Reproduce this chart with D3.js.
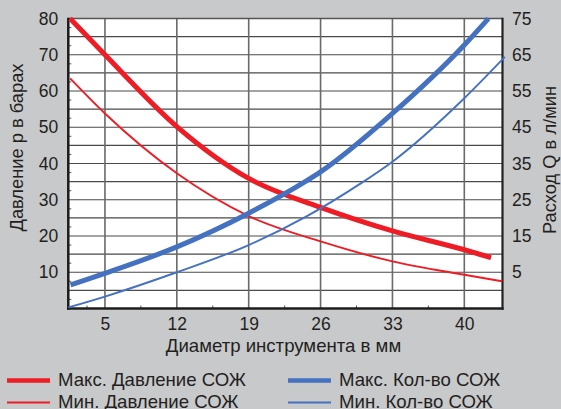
<!DOCTYPE html>
<html><head><meta charset="utf-8">
<script src="https://cdn.jsdelivr.net/npm/d3@7"></script>
<style>
html,body{margin:0;padding:0;background:#c8c9cb;}
svg{display:block;font-family:"Liberation Sans",Arial,sans-serif;}
</style></head>
<body>
<svg id="chart" width="561" height="409"></svg>
<script>
// ---- data ----
const xTicks = [5, 12, 19, 26, 33, 40];
const xMinorTicks = [3.25, 8.5, 15.5, 22.5, 29.5, 36.5];
const leftTicks = [10, 20, 30, 40, 50, 60, 70, 80];
const rightTicks = [5, 15, 25, 35, 45, 55, 65, 75];
const gridValues = [5,10,15,20,25,30,35,40,45,50,55,60,65,70,75];

// pressure in bar (left axis)
const maxPressureD = [1.6, 5, 12, 19, 26, 33, 40, 42.6];
const maxPressure  = [80, 70, 50.2, 35.9, 27.9, 21.4, 16.2, 14.0];
const minPressureD = [1.6, 5, 12, 19, 26, 33, 40, 43.7];
const minPressure  = [63.5, 53.8, 37.3, 25.5, 18.5, 13.0, 9.3, 7.5];
// flow in l/min (right axis)
const maxFlowD = [1.65, 5, 12, 19, 24.5, 26, 33, 40, 42.35];
const maxFlow  = [1.5, 4.7, 12.0, 21.3, 30.0, 32.7, 48.8, 67.7, 75];
const minFlowD = [1.43, 5, 12, 19, 24.5, 29.8, 33, 40, 43.95];
const minFlow  = [-4.7, -1.7, 5.0, 12.5, 20.2, 29.3, 35.5, 53.0, 64.4];

const legendLabels = ["Макс. Давление СОЖ", "Мин. Давление СОЖ", "Макс. Кол-во СОЖ", "Мин. Кол-во СОЖ"];
const xTitle = "Диаметр инструмента в мм";
const yLeftTitle = "Давление p в барах";
const yRightTitle = "Расход Q в л/мин";

// ---- layout ----
const L = 68.3, R = 502.5, T = 18.5, B = 308.5;
const RED = "#ee1c25", BLUE = "#4471c0";
const svg = d3.select("#chart");

const x = d3.scaleLinear().domain([1.43, 43.72]).range([L, R]);
const yL = d3.scaleLinear().domain([0, 80]).range([B, T]);
const yR = d3.scaleLinear().domain([-5, 75]).range([B, T]);

// plot background
svg.append("rect").attr("x", L).attr("y", T).attr("width", R - L).attr("height", B - T).attr("fill", "#ffffff");

// grid
svg.append("g").selectAll("line").data(gridValues).join("line")
  .attr("x1", L).attr("x2", R).attr("y1", d => yL(d)).attr("y2", d => yL(d))
  .attr("stroke", "#4a4a4a").attr("stroke-width", 1.2);
svg.append("g").selectAll("line").data(xTicks).join("line")
  .attr("x1", d => x(d)).attr("x2", d => x(d)).attr("y1", T).attr("y2", B)
  .attr("stroke", "#6a6a6a").attr("stroke-width", 1.6);

// minor ticks
svg.append("g").selectAll("line").data(xMinorTicks).join("line")
  .attr("x1", d => x(d)).attr("x2", d => x(d)).attr("y1", B - 3).attr("y2", B)
  .attr("stroke", "#555").attr("stroke-width", 1);
svg.append("g").selectAll("line").data(d3.range(2.5, 80, 5)).join("line")
  .attr("x1", L).attr("x2", L + 3).attr("y1", d => yL(d)).attr("y2", d => yL(d))
  .attr("stroke", "#555").attr("stroke-width", 1);

// frame
svg.append("line").attr("x1", L).attr("x2", R).attr("y1", T).attr("y2", T).attr("stroke", "#555").attr("stroke-width", 1.5);
svg.append("line").attr("x1", R).attr("x2", R).attr("y1", T - 0.7).attr("y2", B + 1.2).attr("stroke", "#222").attr("stroke-width", 2.2);
svg.append("line").attr("x1", L - 1.2).attr("x2", R + 1.1).attr("y1", B).attr("y2", B).attr("stroke", "#1e1e1e").attr("stroke-width", 2.5);
svg.append("line").attr("x1", L).attr("x2", L).attr("y1", T - 0.7).attr("y2", B + 1.2).attr("stroke", "#1a1a1a").attr("stroke-width", 2.5);

// axes labels
const fs = 17.5;
const axL = d3.axisLeft(yL).tickValues(leftTicks).tickSize(0).tickPadding(10);
const axR = d3.axisRight(yR).tickValues(rightTicks).tickSize(0).tickPadding(9.5);
const axB = d3.axisBottom(x).tickValues(xTicks).tickSize(0).tickPadding(9).tickFormat(d3.format("d"));
function style(g){ g.select(".domain").remove(); g.selectAll("text").attr("font-size", fs).attr("fill", "#231f20").attr("font-family", "Liberation Sans, Arial, sans-serif"); }
svg.append("g").attr("transform", `translate(${L},0)`).call(axL).call(style);
svg.append("g").attr("transform", `translate(${R},0)`).call(axR).call(style);
svg.append("g").attr("transform", `translate(0,${B})`).call(axB).call(style);

// titles
svg.append("text").attr("x", 283.5).attr("y", 352).attr("text-anchor", "middle")
  .attr("font-size", 18.6).attr("fill", "#231f20").text(xTitle);
svg.append("text").attr("transform", "translate(23,147.5) rotate(-90)").attr("text-anchor", "middle")
  .attr("font-size", 18.3).attr("fill", "#231f20").text(yLeftTitle);
svg.append("text").attr("transform", "translate(555.5,160) rotate(-90)").attr("text-anchor", "middle")
  .attr("font-size", 18.3).attr("fill", "#231f20").text(yRightTitle);

// series
const lineL = d3.line().x(d => x(d[0])).y(d => yL(d[1])).curve(d3.curveMonotoneX);
const lineR = d3.line().x(d => x(d[0])).y(d => yR(d[1])).curve(d3.curveMonotoneX);
const series = [
  {d: d3.zip(maxPressureD, maxPressure), gen: lineL, color: RED, w: 5},
  {d: d3.zip(minPressureD, minPressure), gen: lineL, color: RED, w: 1.9},
  {d: d3.zip(maxFlowD, maxFlow), gen: lineR, color: BLUE, w: 5},
  {d: d3.zip(minFlowD, minFlow), gen: lineR, color: BLUE, w: 1.9}
];
svg.append("g").selectAll("path").data(series).join("path")
  .attr("d", s => s.gen(s.d)).attr("fill", "none")
  .attr("stroke", s => s.color).attr("stroke-width", s => s.w).attr("stroke-linecap", "butt");

// legend
const legPos = [[7, 380.5], [7, 402.5], [288, 380.5], [288, 402.5]];
const lg = svg.append("g").selectAll("g").data(series).join("g")
  .attr("transform", (s, i) => `translate(${legPos[i][0]},${legPos[i][1]})`);
lg.append("line").attr("x1", 0).attr("x2", 43).attr("y1", 0).attr("y2", 0)
  .attr("stroke", s => s.color).attr("stroke-width", s => s.w === 5 ? 4.5 : 1.9);
lg.append("text").attr("x", 51).attr("y", 5.5).attr("font-size", 18.6).attr("fill", "#231f20")
  .text((s, i) => legendLabels[i]);
</script>
</body></html>
